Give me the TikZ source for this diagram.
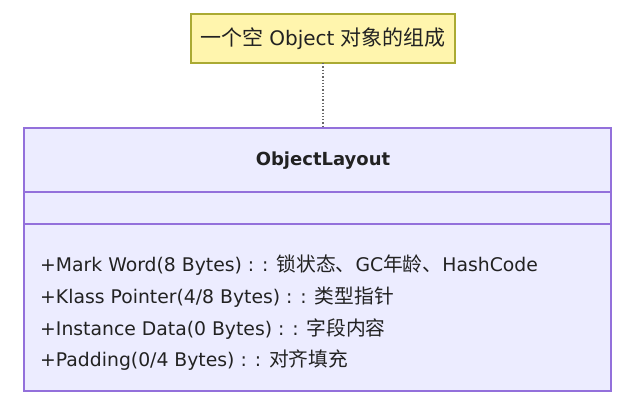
\documentclass[tikz,border=0pt]{standalone}
\usepackage{fontspec}
\setmainfont{DejaVu Sans}
\newfontfamily\cjk{Noto Sans CJK SC}[Scale=1.05]
\begin{document}
\begin{tikzpicture}[x=1pt,y=-1pt,
  notebox/.style={draw=notebd,fill=notefill,line width=1.2pt},
  classbox/.style={draw=classbd,fill=classfill,line width=1.2pt},
  member/.style={anchor=west,inner sep=0pt,font=\fontsize{18.8}{20}\selectfont,text=txt}]
\definecolor{notefill}{HTML}{FFF5AD}
\definecolor{notebd}{HTML}{AAAA33}
\definecolor{classfill}{HTML}{ECECFF}
\definecolor{classbd}{HTML}{9370DB}
\definecolor{txt}{HTML}{222222}
\useasboundingbox (0,0) rectangle (640,400);
\fill[white] (0,0) rectangle (640,400);
% note
\draw[notebox] (191,14) rectangle (455,63);
\node[inner sep=0pt,font=\fontsize{20}{22}\selectfont,text=txt] (note) at (323,39) {{\cjk 一个空} Object {\cjk 对象的组成}};
\coordinate (nb) at (323,63);
% class
\draw[classbox] (24,128) rectangle (611,391);
\coordinate (ct) at (323,128);
\draw[classbd,line width=1.2pt] (24,192) -- (611,192);
\draw[classbd,line width=1.2pt] (24,224) -- (611,224);
\node[inner sep=0pt,font=\bfseries\fontsize{18}{20}\selectfont,text=txt] (title) at (323,161) {ObjectLayout};
\node[member] (m1) at (40,265) {+Mark Word(8 Bytes) : : {\cjk 锁状态、}GC{\cjk 年龄、}HashCode};
\node[member] (m2) at (40,297) {+Klass Pointer(4/8 Bytes) : : {\cjk 类型指针}};
\node[member] (m3) at (40,329) {+Instance Data(0 Bytes) : : {\cjk 字段内容}};
\node[member] (m4) at (40,360) {+Padding(0/4 Bytes) : : {\cjk 对齐填充}};
% connector
\draw[dotted,line width=1.3pt,draw=gray!80!black] (nb) -- (ct);
\end{tikzpicture}
\end{document}
